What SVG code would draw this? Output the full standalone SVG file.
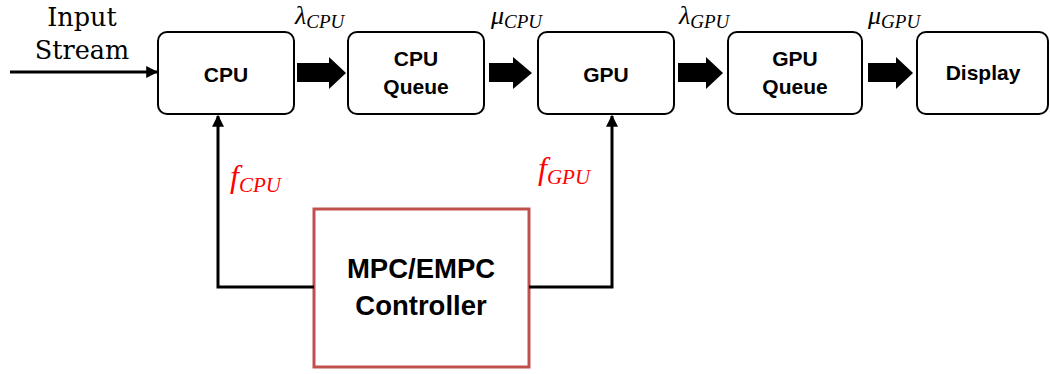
<svg xmlns="http://www.w3.org/2000/svg" width="1050" height="374" viewBox="0 0 1050 374">
<style>
.box{fill:#fff;stroke:#000;stroke-width:2}
.ctrl{fill:#fff;stroke:#C0504D;stroke-width:3}
.lbl{font-family:"Liberation Sans",Arial,sans-serif;font-weight:bold;font-size:21px;text-anchor:middle;fill:#000}
.big{font-family:"Liberation Sans",Arial,sans-serif;font-weight:bold;font-size:27.5px;text-anchor:middle;fill:#000}
.ser{font-family:"DejaVu Serif",serif;font-size:25.5px;text-anchor:middle;fill:#000}
.math{font-family:"Liberation Serif",serif;font-style:italic;fill:#000}
.red{fill:#FF0000}
.line{fill:none;stroke:#000;stroke-width:3}
.blk{fill:#000}
</style>
<defs>
<marker id="ah" viewBox="0 0 10 10" refX="9" refY="5" markerWidth="4" markerHeight="4" orient="auto" markerUnits="strokeWidth">
<path d="M0,0 L10,5 L0,10 z" fill="#000"/>
</marker>
</defs>
<g id="input-label">
<text class="ser" x="82" y="26">Input</text>
<text class="ser" x="82" y="59">Stream</text>
</g>
<g id="cpu"><rect class="box" x="158" y="32" width="136" height="82" rx="9"/><text class="lbl" x="226" y="82">CPU</text></g>
<g id="cpu-queue"><rect class="box" x="348" y="32" width="136" height="82" rx="9"/><text class="lbl" x="416" y="66">CPU</text><text class="lbl" x="416" y="94">Queue</text></g>
<g id="gpu"><rect class="box" x="538" y="32" width="136" height="82" rx="9"/><text class="lbl" x="606" y="82">GPU</text></g>
<g id="gpu-queue"><rect class="box" x="728" y="32" width="134" height="82" rx="9"/><text class="lbl" x="795" y="66">GPU</text><text class="lbl" x="795" y="94">Queue</text></g>
<g id="display"><rect class="box" x="917" y="32" width="131" height="82" rx="9"/><text class="lbl" x="983" y="80">Display</text></g>
<g id="controller"><rect class="ctrl" x="314" y="209" width="215" height="158"/><text class="big" x="421" y="278">MPC/EMPC</text><text class="big" x="421" y="315">Controller</text></g>
<g id="connectors">
<line class="line" x1="10" y1="72" x2="157" y2="72" stroke-width="3" marker-end="url(#ah)"/>
<path class="blk" d="M297,63 H329 V57 L346,73 L329,89 V82 H297 z"/>
<path class="blk" d="M489,63 H513 V57 L532,73 L513,89 V82 H489 z"/>
<path class="blk" d="M678,63 H706 V57 L723,73 L706,89 V82 H678 z"/>
<path class="blk" d="M868,63 H896 V57 L913,73 L896,89 V82 H868 z"/>
<path class="line" d="M314,287 H218 V116" marker-end="url(#ah)"/>
<path class="line" d="M529,287 H612 V116" marker-end="url(#ah)"/>
</g>
<g id="rate-labels">
<text class="math" x="295" y="24" font-size="26">λ<tspan font-size="19" dy="4">CPU</tspan></text>
<text class="math" x="491" y="24" font-size="26">μ<tspan font-size="19" dy="4">CPU</tspan></text>
<text class="math" x="679" y="24" font-size="26">λ<tspan font-size="19" dy="4">GPU</tspan></text>
<text class="math" x="868" y="24" font-size="26">μ<tspan font-size="19" dy="4">GPU</tspan></text>
</g>
<g id="freq-labels">
<text class="math red" x="230" y="187" font-size="32">f<tspan font-size="21" dy="5">CPU</tspan></text>
<text class="math red" x="538" y="179" font-size="32">f<tspan font-size="21" dy="5">GPU</tspan></text>
</g>
</svg>
